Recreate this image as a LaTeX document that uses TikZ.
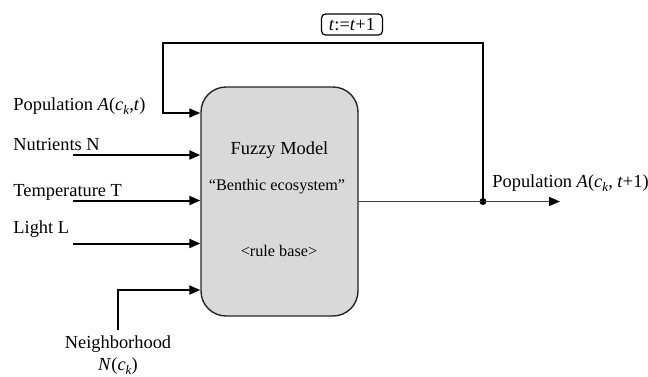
\documentclass[tikz,border=0pt]{standalone}
\usepackage{xcolor}
\usepackage{fontspec}
\setmainfont{Liberation Serif}
\usepackage{tikz}
\usetikzlibrary{arrows.meta, positioning}

\newcommand{\ck}{\textit{c}\raisebox{-0.55ex}{\fontsize{6.5}{7}\selectfont\textit{k}}}

\begin{document}
\begin{tikzpicture}[
        x=0.5pt, y=-0.5pt,
        font=\fontsize{9.2}{11}\selectfont,
        model/.style={rectangle, draw=black!85, fill=black!15, line width=0.7pt, rounded corners=12.5pt, minimum width=78.5pt, minimum height=114.5pt},
        inlabel/.style={anchor=base west, inner sep=0pt},
        boxtext/.style={anchor=base, inner sep=0pt, font=\fontsize{8.1}{10}\selectfont},
        stepbox/.style={rectangle, draw, line width=0.6pt, rounded corners=2pt, inner sep=1pt, minimum width=30.5pt, minimum height=10.5pt},
        dot/.style={circle, fill, inner sep=0pt, minimum size=3.5pt},
        line/.style={draw, line width=1pt, -{Triangle[length=5.5pt, width=4.5pt]}},
        feedline/.style={draw, line width=0.7pt, -{Triangle[length=5.5pt, width=4.5pt]}},
        outline/.style={draw, black!75, line width=0.8pt, -{Triangle[length=5.5pt, width=4.5pt, color=black]}}
        ]
        \useasboundingbox (0,0) rectangle (648,376);

        % Nodes
        \node [model] (model) at (279.5,201.5) {};
        \node [boxtext, font=\fontsize{9.2}{11}\selectfont] (title) at (279.5,154) {Fuzzy Model};
        \node [boxtext] (eco) at (277,190) {``Benthic ecosystem''};
        \node [boxtext] (rules) at (279,256.5) {\textless rule base\textgreater};

        \node [inlabel] (pop) at (13,110) {Population \textit{A}(\ck,\textit{t})};
        \node [inlabel] (nut) at (13,150.5) {Nutrients N};
        \node [inlabel] (temp) at (13,196.5) {Temperature T};
        \node [inlabel] (light) at (13,233) {Light L};
        \node [anchor=north, align=center, inner xsep=0pt, inner ysep=2.5pt] (nb) at (118,330) {Neighborhood\\\textit{N}(\ck)};

        \node [dot] (split) at (483,201.5) {};
        \node [inlabel] (popout) at (492,187) {Population \textit{A}(\ck, \textit{t}+1)};
        \node [stepbox] (step) at (352,24.5) {\textit{t}:=\textit{t}+1};

        \coordinate (nin) at (73,155);
        \coordinate (tin) at (73,200.5);
        \coordinate (lin) at (73,243.5);
        \coordinate (nbin) at (118,290);
        \coordinate (fb) at (163,43);
        \coordinate (popin) at (163,113);
        \coordinate (outend) at (560,201.5);

        % Edges
        \path [line] (nin) -- (nin -| model.west);
        \path [line] (tin) -- (tin -| model.west);
        \path [line] (lin) -- (lin -| model.west);
        \path [line] (nb.north) -- (nbin) -- (nbin -| model.west);
        \path [outline] (model.east) -- (split.center) -- (outend);
        \path [feedline] (split.center) |- (fb) -- (popin) -- (popin -| model.west);
    \end{tikzpicture}
\end{document}
